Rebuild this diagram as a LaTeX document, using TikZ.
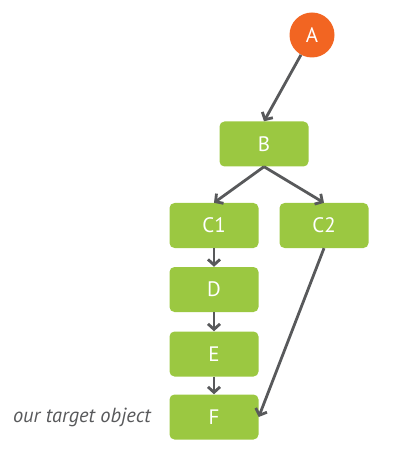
\documentclass[tikz,border=0pt]{standalone}
\usepackage{fontspec}
\setmainfont{PT Sans}
\usepackage{tikz}
\usetikzlibrary{arrows.meta,positioning}

\definecolor{leaf}{HTML}{9BC841}
\definecolor{root}{HTML}{F26522}
\definecolor{link}{HTML}{58595B}

\begin{document}
\begin{tikzpicture}[x=1bp,y=-1bp]

\def \w{89bp}
\def \h{45bp}
\def \heavy{2.8bp}

\tikzset{
  obj/.style={fill=leaf,rounded corners=5bp,minimum width=\w,minimum height=\h,
    text=white,font=\fontsize{21}{24}\selectfont,inner sep=0pt},
  origin/.style={circle,fill=root,minimum size=45bp,text=white,
    font=\fontsize{21}{24}\selectfont,inner sep=0pt},
  ref/.style={draw=link,line width=\heavy,-{Straight Barb[length=5.5bp,width=12bp,line width=\heavy]}}
}

\useasboundingbox (0,0) rectangle (413,450);

\node[origin] (A) at (312,35) {A};
\node[obj] (B) at (264,144) {B};
\node[obj] (C1) at (214,225.5) {C1};
\node[obj] (C2) at (324,225.5) {C2};
\node[obj] (D) at (214,289.5) {D};
\node[obj] (E) at (214,354) {E};
\node[obj] (F) at (214,417) {F};

\node[left=15bp of F,text=link,font=\fontsize{20.5}{24}\selectfont\itshape] (T) {our target object};

\draw[ref] (A) -- (B.north);
\draw[ref] (B.south) -- (C1.north);
\draw[ref] (B.south) -- (C2.north);
\draw[ref] (C1) -- (D);
\draw[ref] (D) -- (E);
\draw[ref] (E) -- (F);
\draw[ref] (C2.south) -- (F.east);

\end{tikzpicture}
\end{document}
